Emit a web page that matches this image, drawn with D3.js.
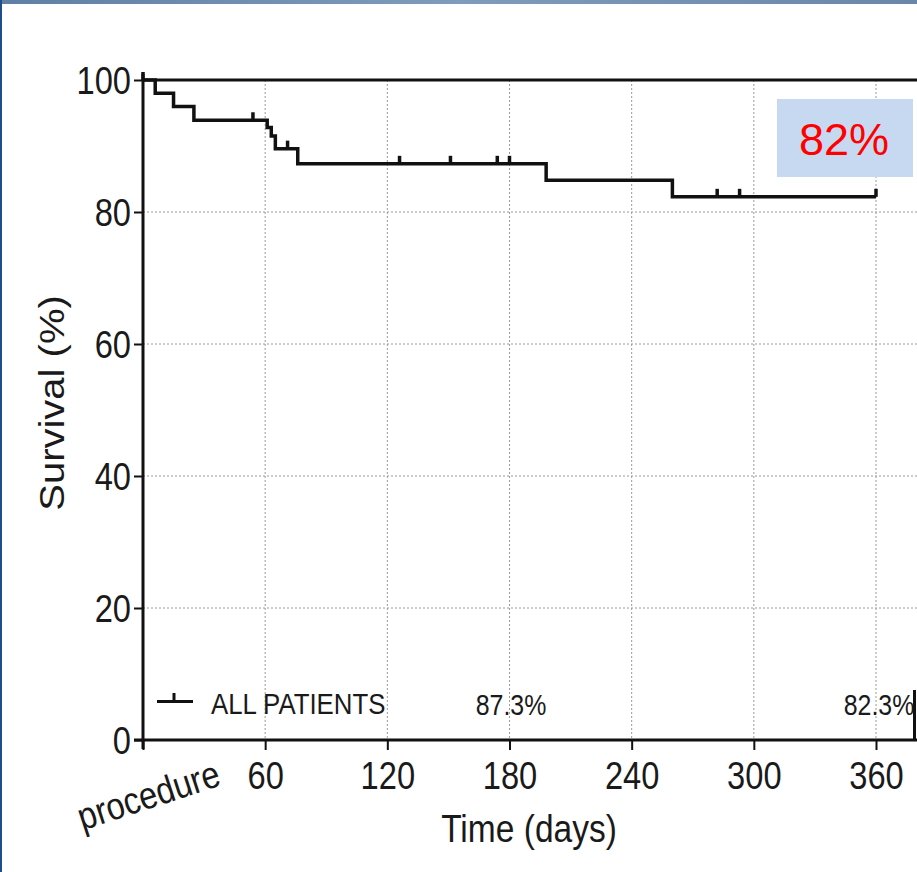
<!DOCTYPE html>
<html>
<head>
<meta charset="utf-8">
<script src="https://cdn.jsdelivr.net/npm/d3@7"></script>
<style>
  html, body { margin: 0; padding: 0; background: #fff; }
  svg { display: block; font-family: "Liberation Sans", Arial, sans-serif; }
</style>
</head>
<body>
<svg id="chart" width="917" height="872"></svg>
<script>
// Kaplan-Meier survival, all patients
const eventDays   = [0, 6, 15, 25, 61, 63, 65, 76, 198, 260];
const survivalPct = [100, 98.0, 96.0, 93.9, 92.8, 91.5, 89.6, 87.3, 84.8, 82.3];
const censorDays  = [54, 71, 126, 151, 174, 180, 282, 293, 360];
const followUpEnd = 360;

const xTickValues = [0, 60, 120, 180, 240, 300, 360];
const xTickLabels = ["procedure", "60", "120", "180", "240", "300", "360"];
const yTickValues = [0, 20, 40, 60, 80, 100];

const legendLabel = "ALL PATIENTS";
const landmarkDays   = [180, 360];
const landmarkLabels = ["87.3%", "82.3%"];
const highlightLabel = "82%";

const svg = d3.select("#chart");
const W = 917, H = 872;
const SX = 0.86; // narrow glyph rendering of the chart text

const x = d3.scaleLinear().domain([0, 360]).range([143, 876]);
const y = d3.scaleLinear().domain([0, 100]).range([740, 80]);

// slide frame: top bar and left rule
const grad = svg.append("defs").append("linearGradient").attr("id", "topbar");
grad.append("stop").attr("offset", "0%").attr("stop-color", "#5f7fa4");
grad.append("stop").attr("offset", "50%").attr("stop-color", "#7f9cbc");
grad.append("stop").attr("offset", "100%").attr("stop-color", "#6a87aa");
svg.append("rect").attr("x", 0).attr("y", 0).attr("width", W).attr("height", 4).attr("fill", "url(#topbar)");
svg.append("rect").attr("x", 0).attr("y", 0).attr("width", 2).attr("height", H).attr("fill", "#1d4f8c");

// dotted grid
const grid = svg.append("g").attr("stroke", "#9a9a9a").attr("stroke-width", 1).attr("stroke-dasharray", "2,2");
xTickValues.slice(1).forEach(d => {
  grid.append("line").attr("x1", x(d)).attr("x2", x(d)).attr("y1", y(100)).attr("y2", y(0));
});
yTickValues.filter(v => v > 0 && v < 100).forEach(v => {
  grid.append("line").attr("x1", x(0)).attr("x2", W).attr("y1", y(v)).attr("y2", y(v));
});

// frame top and right stub
svg.append("line").attr("x1", x(0)).attr("x2", W).attr("y1", y(100)).attr("y2", y(100))
  .attr("stroke", "#111").attr("stroke-width", 3);
svg.append("line").attr("x1", 914.5).attr("x2", 914.5).attr("y1", 690).attr("y2", y(0))
  .attr("stroke", "#111").attr("stroke-width", 3);

// axes
const yAxis = d3.axisLeft(y).tickValues(yTickValues).tickSize(9).tickPadding(4);
const gy = svg.append("g").attr("transform", `translate(${x(0)},0)`).call(yAxis);
gy.select(".domain").attr("stroke", "#111").attr("stroke-width", 3).attr("d", `M0,${y(0)+9}V${y(100)-6}`);
gy.selectAll(".tick line").attr("stroke", "#111").attr("stroke-width", 2);
gy.selectAll(".tick text")
  .attr("font-size", 38).attr("fill", "#1a1a1a")
  .attr("x", null).attr("dy", null)
  .attr("text-anchor", "end")
  .attr("transform", `translate(-12,13) scale(${SX},1)`);

const xAxis = d3.axisBottom(x).tickValues(xTickValues).tickSize(10).tickFormat((d, i) => xTickLabels[i]);
const gx = svg.append("g").attr("transform", `translate(0,${y(0)})`).call(xAxis);
gx.select(".domain").attr("stroke", "#111").attr("stroke-width", 3).attr("d", `M${x(0)-9},0H${W}`);
gx.selectAll(".tick line").attr("stroke", "#111").attr("stroke-width", 2);
gx.selectAll(".tick text")
  .attr("font-size", 38).attr("fill", "#1a1a1a")
  .attr("y", null).attr("dy", null)
  .attr("text-anchor", "middle")
  .attr("transform", `translate(0,49) scale(${SX},1)`);
gx.selectAll(".tick").filter(d => d === 0).select("text")
  .attr("font-size", 38)
  .attr("text-anchor", "end")
  .attr("transform", `translate(${222 - x(0)},45) rotate(-18) scale(${SX},1)`);

// axis titles
svg.append("text").text("Time (days)")
  .attr("font-size", 39).attr("fill", "#1a1a1a").attr("text-anchor", "middle")
  .attr("transform", `translate(529,842) scale(${SX},1)`);
svg.append("text").text("Survival (%)")
  .attr("font-size", 40).attr("fill", "#1a1a1a").attr("text-anchor", "middle")
  .attr("transform", `translate(64,403) scale(${SX},1) rotate(-90)`);

// survival step curve
const pts = eventDays.map((d, i) => [d, survivalPct[i]]);
pts.push([followUpEnd, survivalPct[survivalPct.length - 1]]);
const line = d3.line().x(d => x(d[0])).y(d => y(d[1])).curve(d3.curveStepAfter);
svg.append("path").datum(pts).attr("d", line)
  .attr("fill", "none").attr("stroke", "#111").attr("stroke-width", 3.5).attr("stroke-linejoin", "miter");

// survival at a given day
function survAt(day) {
  let s = 100;
  eventDays.forEach((d, i) => { if (d <= day) s = survivalPct[i]; });
  return s;
}

// censor marks
svg.append("g").selectAll("line").data([0].concat(censorDays)).join("line")
  .attr("x1", d => x(d)).attr("x2", d => x(d))
  .attr("y1", d => y(survAt(d))).attr("y2", d => y(survAt(d)) - 8)
  .attr("stroke", "#111").attr("stroke-width", 3.5);

// legend
svg.append("line").attr("x1", 157).attr("x2", 193).attr("y1", 701.5).attr("y2", 701.5)
  .attr("stroke", "#111").attr("stroke-width", 3);
svg.append("line").attr("x1", 174).attr("x2", 174).attr("y1", 701.5).attr("y2", 693)
  .attr("stroke", "#111").attr("stroke-width", 3);
svg.append("text").text(legendLabel)
  .attr("font-size", 29).attr("fill", "#1a1a1a")
  .attr("transform", `translate(211,714) scale(0.89,1)`);

// landmark survival labels
svg.append("g").selectAll("text").data(landmarkDays).join("text")
  .text((d, i) => landmarkLabels[i])
  .attr("font-size", 29).attr("fill", "#1a1a1a").attr("text-anchor", "middle")
  .attr("transform", (d, i) => `translate(${i === 0 ? 511 : 879},715) scale(0.86,1)`);

// highlighted one-year survival
svg.append("rect").attr("x", 777).attr("y", 99).attr("width", 136).attr("height", 78).attr("fill", "#c6d9f0");
svg.append("text").text(highlightLabel)
  .attr("x", 844).attr("y", 155).attr("text-anchor", "middle")
  .attr("font-size", 45).attr("fill", "#ff0000");
</script>
</body>
</html>
